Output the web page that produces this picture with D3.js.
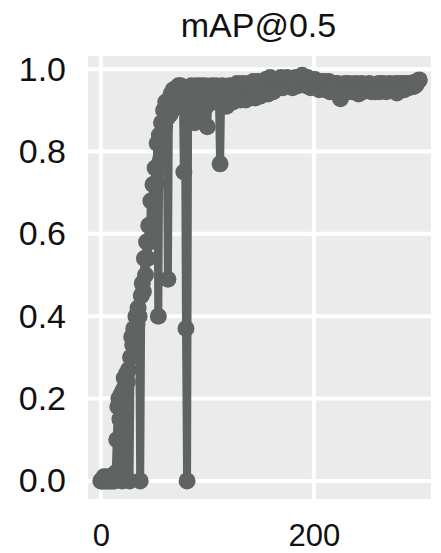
<!DOCTYPE html>
<html lang="en">
<head>
  <meta charset="UTF-8" />
  <title>mAP@0.5</title>
  <style>
    body { margin: 0; background: #fff; font-family: "Liberation Sans", Arial, sans-serif; }
    svg text { fill: #111; }
  </style>
</head>
<body>
  <div id="chart"></div>

  <script src="https://cdnjs.cloudflare.com/ajax/libs/d3/7.8.4/d3.min.js"></script>
  <script>
    const width = 441, height = 553;

    const chartTitle = "mAP@0.5";
    const xTicks = [0, 200];
    const yTicks = [0.0, 0.2, 0.4, 0.6, 0.8, 1.0];

    // mAP@0.5 per epoch (epochs 0..299)
    const mapStart = [
      0.00, 0.00, 0.00, 0.01, 0.00, 0.00, 0.01, 0.00, 0.00, 0.01,
      0.00, 0.00, 0.01, 0.00, 0.02, 0.10, 0.18, 0.20, 0.15, 0.21,
      0.00, 0.22, 0.25, 0.23, 0.26, 0.24, 0.27, 0.00, 0.30, 0.35,
      0.33, 0.37, 0.36, 0.40, 0.38, 0.42, 0.40, 0.00, 0.45, 0.48,
      0.46, 0.54, 0.50, 0.58, 0.54, 0.62, 0.58, 0.68, 0.62, 0.72,
      0.68, 0.76, 0.72, 0.82, 0.40, 0.84, 0.78, 0.87, 0.83, 0.90,
      0.86, 0.92, 0.88, 0.49, 0.92, 0.89, 0.94, 0.90, 0.95, 0.92,
      0.95, 0.93, 0.94, 0.96, 0.92, 0.96, 0.94, 0.95, 0.75, 0.93,
      0.37, 0.00, 0.92, 0.94, 0.93, 0.96, 0.92, 0.95, 0.87, 0.93,
      0.96, 0.92, 0.88, 0.94, 0.96, 0.92, 0.95, 0.93, 0.96, 0.91,
      0.86, 0.94, 0.95, 0.92, 0.96, 0.93, 0.95, 0.92, 0.96, 0.94
    ];
    const mapMiddle = [
      0.93, 0.92, 0.77, 0.94, 0.96, 0.92, 0.95, 0.93, 0.91, 0.95,
      0.93, 0.96, 0.92, 0.95, 0.92, 0.94, 0.96, 0.925, 0.965, 0.93,
      0.95, 0.925, 0.94, 0.965, 0.95, 0.93, 0.925, 0.955, 0.965, 0.935,
      0.93, 0.955, 0.94, 0.97, 0.955, 0.93, 0.945, 0.97, 0.955, 0.935,
      0.935, 0.96, 0.97, 0.94, 0.96, 0.975, 0.96, 0.94, 0.97, 0.98,
      0.95, 0.97, 0.945, 0.96, 0.975, 0.97, 0.955, 0.965, 0.97, 0.98,
      0.96, 0.955, 0.975, 0.965, 0.97, 0.98, 0.96, 0.97, 0.975, 0.965,
      0.955, 0.975, 0.97, 0.98, 0.965, 0.96, 0.98, 0.975, 0.965, 0.985,
      0.98, 0.965, 0.975, 0.96, 0.98, 0.97, 0.975, 0.955, 0.97, 0.975
    ];
    const mapEnd = [
      0.96, 0.975, 0.97, 0.955, 0.97, 0.95, 0.965, 0.97, 0.955, 0.965,
      0.97, 0.95, 0.965, 0.955, 0.97, 0.945, 0.965, 0.96, 0.95, 0.965,
      0.96, 0.945, 0.965, 0.955, 0.94, 0.928, 0.955, 0.96, 0.945, 0.965,
      0.955, 0.96, 0.945, 0.965, 0.955, 0.96, 0.945, 0.96, 0.955, 0.965,
      0.96, 0.945, 0.94, 0.96, 0.955, 0.965, 0.945, 0.96, 0.955, 0.96,
      0.955, 0.96, 0.965, 0.955, 0.945, 0.96, 0.955, 0.962, 0.945, 0.96,
      0.955, 0.965, 0.945, 0.96, 0.955, 0.965, 0.955, 0.96, 0.945, 0.963,
      0.958, 0.965, 0.955, 0.96, 0.95, 0.962, 0.955, 0.965, 0.942, 0.96,
      0.955, 0.965, 0.96, 0.955, 0.965, 0.95, 0.962, 0.96, 0.965, 0.955,
      0.962, 0.966, 0.958, 0.965, 0.958, 0.968, 0.962, 0.97, 0.972, 0.974
    ];
    const mapValues = mapStart.concat(mapMiddle, mapEnd);
    const data = mapValues.map((v, i) => ({ epoch: i, value: v }));

    const plot = { left: 88, right: 431, top: 56, bottom: 499 };
    const x = d3.scaleLinear().domain([-12, 310]).range([plot.left, plot.right]);
    const y = d3.scaleLinear().domain([-0.044, 1.032]).range([plot.bottom, plot.top]);

    const svg = d3.select("#chart").append("svg")
      .attr("width", width).attr("height", height);

    // plot background
    svg.append("rect")
      .attr("x", plot.left).attr("y", plot.top)
      .attr("width", plot.right - plot.left).attr("height", plot.bottom - plot.top)
      .attr("fill", "#ebebeb");

    // grid
    svg.append("g").selectAll("line.gy")
      .data(yTicks).enter().append("line")
      .attr("x1", plot.left).attr("x2", plot.right)
      .attr("y1", d => y(d)).attr("y2", d => y(d))
      .attr("stroke", "#fff").attr("stroke-width", 4);
    svg.append("g").selectAll("line.gx")
      .data(xTicks).enter().append("line")
      .attr("x1", d => x(d)).attr("x2", d => x(d))
      .attr("y1", plot.top).attr("y2", plot.bottom)
      .attr("stroke", "#fff").attr("stroke-width", 4);

    // axes (labels only, no tick marks)
    const yAxis = svg.append("g")
      .attr("transform", `translate(${plot.left - 22},0)`)
      .call(d3.axisLeft(y).tickValues(yTicks).tickFormat(d3.format(".1f")).tickSize(0).tickPadding(0));
    const xAxis = svg.append("g")
      .attr("transform", `translate(0,${plot.bottom + 25})`)
      .call(d3.axisBottom(x).tickValues(xTicks).tickFormat(d3.format("d")).tickSize(0).tickPadding(0));
    yAxis.select(".domain").remove();
    xAxis.select(".domain").remove();
    yAxis.selectAll("text")
      .attr("font-family", "'Liberation Sans', Arial, sans-serif")
      .attr("font-size", 34).attr("fill", "#111");
    xAxis.selectAll("text")
      .attr("font-family", "'Liberation Sans', Arial, sans-serif")
      .attr("font-size", 31).attr("fill", "#111");

    // title
    svg.append("text")
      .attr("x", (plot.left + plot.right) / 2 - 1).attr("y", 37)
      .attr("text-anchor", "middle")
      .attr("font-size", 34)
      .text(chartTitle);

    // series: thick line with big round markers
    const line = d3.line().x(d => x(d.epoch)).y(d => y(d.value));
    const color = "#5f6362";

    svg.append("path")
      .datum(data)
      .attr("d", line)
      .attr("fill", "none")
      .attr("stroke", color)
      .attr("stroke-width", 8)
      .attr("stroke-linejoin", "round");

    svg.append("g").selectAll("circle")
      .data(data).enter().append("circle")
      .attr("cx", d => x(d.epoch))
      .attr("cy", d => y(d.value))
      .attr("r", 8.5)
      .attr("fill", color);
  </script>
</body>
</html>
